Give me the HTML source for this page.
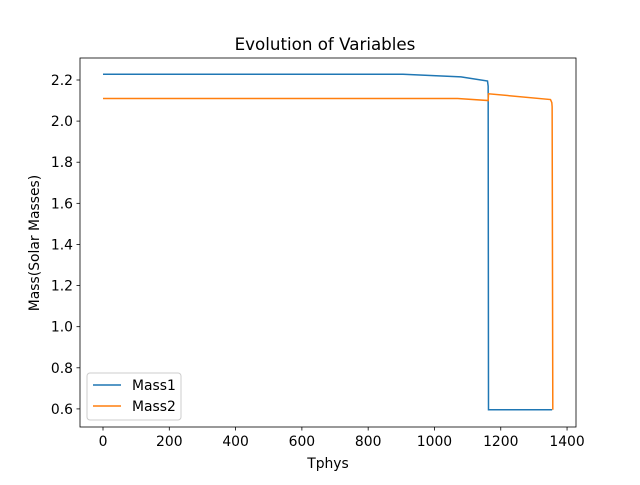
<!DOCTYPE html>
<html><head><meta charset="utf-8"><style>
body{margin:0;background:#fff;font-family:"Liberation Sans","DejaVu Sans",sans-serif}
svg text{font-family:"DejaVu Sans","Liberation Sans",sans-serif}
</style></head><body>
<svg id="chart" width="640" height="480" xmlns="http://www.w3.org/2000/svg">
<rect width="640" height="480" fill="#fff"/>
<text x="325" y="50" text-anchor="middle" font-size="16.7">Evolution of Variables</text>
<g id="plot"></g>
<rect x="80" y="58" width="496" height="369" fill="none" stroke="#000" stroke-width="0.8"/>
<text x="328" y="468" text-anchor="middle" font-size="13.9">Tphys</text>
<text transform="translate(39,243) rotate(-90)" text-anchor="middle" font-size="13.9">Mass(Solar Masses)</text>
<g>
<rect x="87" y="373" width="94" height="47" rx="3" fill="#fff" fill-opacity="0.8" stroke="#ccc"/>
<line x1="93" y1="385" x2="121" y2="385" stroke="#1f77b4" stroke-width="1.5"/>
<text x="132" y="390" font-size="13.9">Mass1</text>
<line x1="93" y1="406" x2="121" y2="406" stroke="#ff7f0e" stroke-width="1.5"/>
<text x="132" y="411" font-size="13.9">Mass2</text>
</g>
</svg>
<script>
const xTicks=[0,200,400,600,800,1000,1200,1400];
const yTicks=[0.6,0.8,1.0,1.2,1.4,1.6,1.8,2.0,2.2];
const tphys1=[0,905,1080,1160,1162,1163,1355];
const mass1=[2.228,2.228,2.215,2.195,2.17,0.596,0.596];
const tphys2=[0,1070,1162,1163,1350,1354,1355,1357];
const mass2=[2.11,2.11,2.10,2.133,2.105,2.09,2.07,0.596];
const X0=80,X1=576,Y0=427,Y1=58,xmin=-69.4,xmax=1427,ymin=0.512,ymax=2.307;
const sx=v=>X0+(v-xmin)/(xmax-xmin)*(X1-X0);
const sy=v=>Y0-(v-ymin)/(ymax-ymin)*(Y0-Y1);
const NS="http://www.w3.org/2000/svg";
const g=document.getElementById('plot');
function mk(t,a){const e=document.createElementNS(NS,t);for(const k in a)e.setAttribute(k,a[k]);g.appendChild(e);return e;}
xTicks.forEach(v=>{
 const l=mk('line',{x1:sx(v),x2:sx(v),y1:427,y2:430.5,stroke:'#000','stroke-width':0.8});
 
 
 const t=mk('text',{x:sx(v),y:446,'text-anchor':'middle','font-size':13.9});
 t.textContent=v;
 
 
});
yTicks.forEach(v=>{
 const l=mk('line',{x1:76.5,x2:80,y1:sy(v),y2:sy(v),stroke:'#000','stroke-width':0.8});
 
 
 const t=mk('text',{x:73,y:sy(v)+5,'text-anchor':'end','font-size':13.9});
 t.textContent=v.toFixed(1);
 
 
});
function line(xs,ys,c,n){
 const p=mk('polyline',{points:xs.map((x,i)=>sx(x)+','+sy(ys[i])).join(' '),fill:'none',stroke:c,'stroke-width':1.5});
 
 
}
line(tphys1,mass1,'#1f77b4','mass1-line');
line(tphys2,mass2,'#ff7f0e','mass2-line');
</script>
</body></html>
